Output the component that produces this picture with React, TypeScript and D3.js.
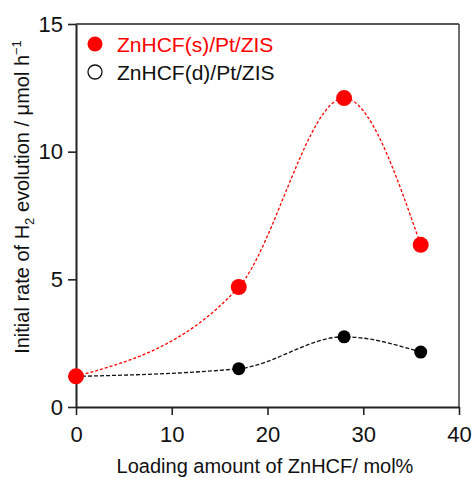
import React, { useEffect, useRef } from "react";
import { select, scaleLinear, axisLeft, axisBottom, line, curveMonotoneX } from "d3";

// loading amount (mol%)
const loading = [0, 17, 28, 36];
// initial rate of H2 evolution (umol/h)
const solidRate = [1.2, 4.7, 12.1, 6.35];
const dispersedRate = [1.2, 1.5, 2.75, 2.15];

const xTicks = [0, 10, 20, 30, 40];
const yTicks = [0, 5, 10, 15];

const legendNames = ["ZnHCF(s)/Pt/ZIS", "ZnHCF(d)/Pt/ZIS"];

const W = 474;
const H = 478;
const FONT = "'Liberation Sans', Arial, sans-serif";

function App() {
  const svgRef = useRef(null);

  useEffect(() => {
    const svg = select(svgRef.current);
    svg.selectAll("*").remove();

    const x = scaleLinear().domain([0, 40]).range([76, 459]);
    const y = scaleLinear().domain([0, 15]).range([407, 24]);

    // frame (top + right thin)
    svg.append("line")
      .attr("x1", x(0)).attr("x2", x(40)).attr("y1", y(15)).attr("y2", y(15))
      .attr("stroke", "#222").attr("stroke-width", 1.3);
    svg.append("line")
      .attr("x1", x(40)).attr("x2", x(40)).attr("y1", y(15)).attr("y2", y(0))
      .attr("stroke", "#222").attr("stroke-width", 1.3);

    // axes
    const gx = svg.append("g")
      .attr("transform", `translate(0, ${y(0)})`)
      .call(axisBottom(x).tickValues(xTicks).tickSize(8).tickSizeOuter(0).tickPadding(11));
    const gy = svg.append("g")
      .attr("transform", `translate(${x(0)}, 0)`)
      .call(axisLeft(y).tickValues(yTicks).tickSize(8).tickSizeOuter(0).tickPadding(5));

    [gx, gy].forEach((g) => {
      g.select(".domain").attr("stroke", "#222").attr("stroke-width", 2);
      g.selectAll(".tick line").attr("stroke", "#222").attr("stroke-width", 1.6);
      g.selectAll(".tick text")
        .attr("fill", "#111")
        .style("font-size", "22px")
        .style("font-family", FONT);
    });

    const pts = (vals) => loading.map((d, i) => [d, vals[i]]);
    const lineGen = line()
      .x((d) => x(d[0]))
      .y((d) => y(d[1]))
      .curve(curveMonotoneX);

    // dispersed series (black) first
    svg.append("path")
      .attr("d", lineGen(pts(dispersedRate)))
      .attr("fill", "none")
      .attr("stroke", "#111")
      .attr("stroke-width", 1.3)
      .attr("stroke-dasharray", "4,2");
    svg.selectAll(".dot-d")
      .data(pts(dispersedRate))
      .join("circle")
      .attr("class", "dot-d")
      .attr("cx", (d) => x(d[0]))
      .attr("cy", (d) => y(d[1]))
      .attr("r", 6.5)
      .attr("fill", "#000");

    // solid series (red)
    svg.append("path")
      .attr("d", lineGen(pts(solidRate)))
      .attr("fill", "none")
      .attr("stroke", "#ff0000")
      .attr("stroke-width", 1.3)
      .attr("stroke-dasharray", "3,2");
    svg.selectAll(".dot-s")
      .data(pts(solidRate))
      .join("circle")
      .attr("class", "dot-s")
      .attr("cx", (d) => x(d[0]))
      .attr("cy", (d) => y(d[1]))
      .attr("r", 8)
      .attr("fill", "#ff0000");

    // legend
    const legend = svg.append("g");
    legend.append("circle").attr("cx", 95).attr("cy", 44).attr("r", 7.5).attr("fill", "#ff0000");
    legend.append("text")
      .attr("x", 117).attr("y", 52)
      .attr("fill", "#ff0000")
      .style("font-size", "21px").style("font-family", FONT)
      .text(legendNames[0]);
    legend.append("circle").attr("cx", 95).attr("cy", 72).attr("r", 7)
      .attr("fill", "none").attr("stroke", "#111").attr("stroke-width", 1.3);
    legend.append("text")
      .attr("x", 117).attr("y", 80)
      .attr("fill", "#111")
      .style("font-size", "21px").style("font-family", FONT)
      .text(legendNames[1]);

    // axis titles
    svg.append("text")
      .attr("x", 265).attr("y", 473)
      .attr("text-anchor", "middle")
      .attr("fill", "#111")
      .style("font-size", "20px").style("font-family", FONT)
      .text("Loading amount of ZnHCF/ mol%");

    const yt = svg.append("text")
      .attr("transform", "translate(29, 197) rotate(-90)")
      .attr("text-anchor", "middle")
      .attr("fill", "#111")
      .style("font-size", "20px").style("font-family", FONT);
    yt.append("tspan").text("Initial rate of H");
    yt.append("tspan").attr("dy", 5).style("font-size", "13px").text("2");
    yt.append("tspan").attr("dy", -5).text(" evolution / μmol h");
    yt.append("tspan").attr("dy", -8).style("font-size", "13px").text("−1");
  }, []);

  return (
    <svg
      ref={svgRef}
      width={W}
      height={H}
      style={{ position: "absolute", left: 0, top: 0, background: "#fff" }}
    />
  );
}

export default App;
